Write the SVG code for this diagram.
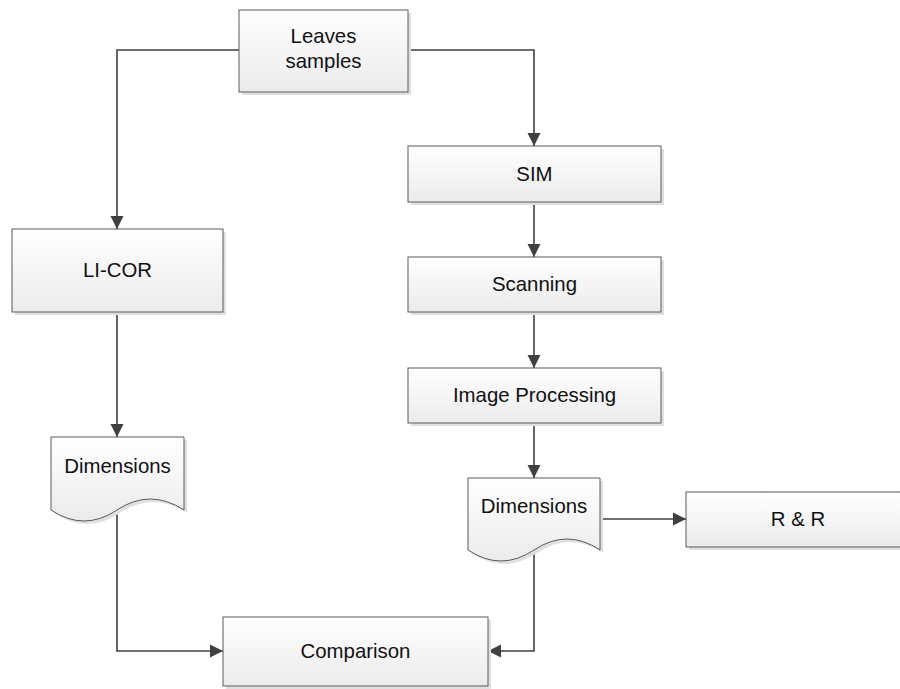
<svg xmlns="http://www.w3.org/2000/svg" width="900" height="689" viewBox="0 0 900 689">
<style>
.box{fill:url(#g);stroke:#5a5a5a;stroke-width:1}
.sh{fill:#e0e0e0}
.lbl{font-family:"Liberation Sans",Arial,sans-serif;font-size:20.4px;fill:#111;text-anchor:middle}
.con{fill:none;stroke:#404040;stroke-width:1.6}
</style>
<defs>
<linearGradient id="g" x1="0" y1="0" x2="0" y2="1">
<stop offset="0" stop-color="#ffffff"/>
<stop offset="1" stop-color="#ebebeb"/>
</linearGradient>
<marker id="ar" markerUnits="userSpaceOnUse" markerWidth="14" markerHeight="14" viewBox="0 0 14 14" refX="13" refY="7" orient="auto">
<path d="M0,0.5 L13,7 L0,13.5 Z" fill="#404040"/>
</marker>
</defs>
<g id="connectors">
<path class="con" d="M239,50 H117 V229" marker-end="url(#ar)"/>
<path class="con" d="M408,50 H534 V146" marker-end="url(#ar)"/>
<path class="con" d="M534,202 V257" marker-end="url(#ar)"/>
<path class="con" d="M534,312 V368" marker-end="url(#ar)"/>
<path class="con" d="M534,423 V478" marker-end="url(#ar)"/>
<path class="con" d="M117,312 V437" marker-end="url(#ar)"/>
<path class="con" d="M600,519 H686" marker-end="url(#ar)"/>
<path class="con" d="M117,510 V651 H223" marker-end="url(#ar)"/>
<path class="con" d="M534,550 V651 H488" marker-end="url(#ar)"/>
</g>
<g id="leaves">
<rect class="sh" x="242" y="13" width="169" height="82"/>
<rect class="box" x="239" y="10" width="169" height="82"/>
<text class="lbl" x="323.5" y="42.5">Leaves</text>
<text class="lbl" x="323.5" y="67.5">samples</text>
</g>
<g id="licor">
<rect class="sh" x="15" y="232" width="211" height="83"/>
<rect class="box" x="12" y="229" width="211" height="83"/>
<text class="lbl" x="117.5" y="277">LI-COR</text>
</g>
<g id="sim">
<rect class="sh" x="411" y="149" width="253" height="56"/>
<rect class="box" x="408" y="146" width="253" height="56"/>
<text class="lbl" x="534.5" y="181">SIM</text>
</g>
<g id="scanning">
<rect class="sh" x="411" y="260" width="253" height="55"/>
<rect class="box" x="408" y="257" width="253" height="55"/>
<text class="lbl" x="534.5" y="291">Scanning</text>
</g>
<g id="imgproc">
<rect class="sh" x="411" y="371" width="253" height="55"/>
<rect class="box" x="408" y="368" width="253" height="55"/>
<text class="lbl" x="534.5" y="402">Image Processing</text>
</g>
<g id="dim-left">
<path class="sh" d="M54,440 H187 V513 Q153,491 120,513 Q87,535 54,513 Z"/>
<path class="box" d="M51,437 H184 V510 Q150,488 117,510 Q84,532 51,510 Z"/>
<text class="lbl" x="117.5" y="473">Dimensions</text>
</g>
<g id="dim-right">
<path class="sh" d="M471,481 H603 V553 Q570,531 537,553 Q504,575 471,553 Z"/>
<path class="box" d="M468,478 H600 V550 Q567,528 534,550 Q501,572 468,550 Z"/>
<text class="lbl" x="534" y="513">Dimensions</text>
</g>
<g id="rr">
<rect class="sh" x="689" y="495" width="224" height="55"/>
<rect class="box" x="686" y="492" width="224" height="55"/>
<text class="lbl" x="798" y="526">R &amp; R</text>
</g>
<g id="comparison">
<rect class="sh" x="226" y="620" width="265" height="69"/>
<rect class="box" x="223" y="617" width="265" height="69"/>
<text class="lbl" x="355.5" y="658">Comparison</text>
</g>
</svg>
